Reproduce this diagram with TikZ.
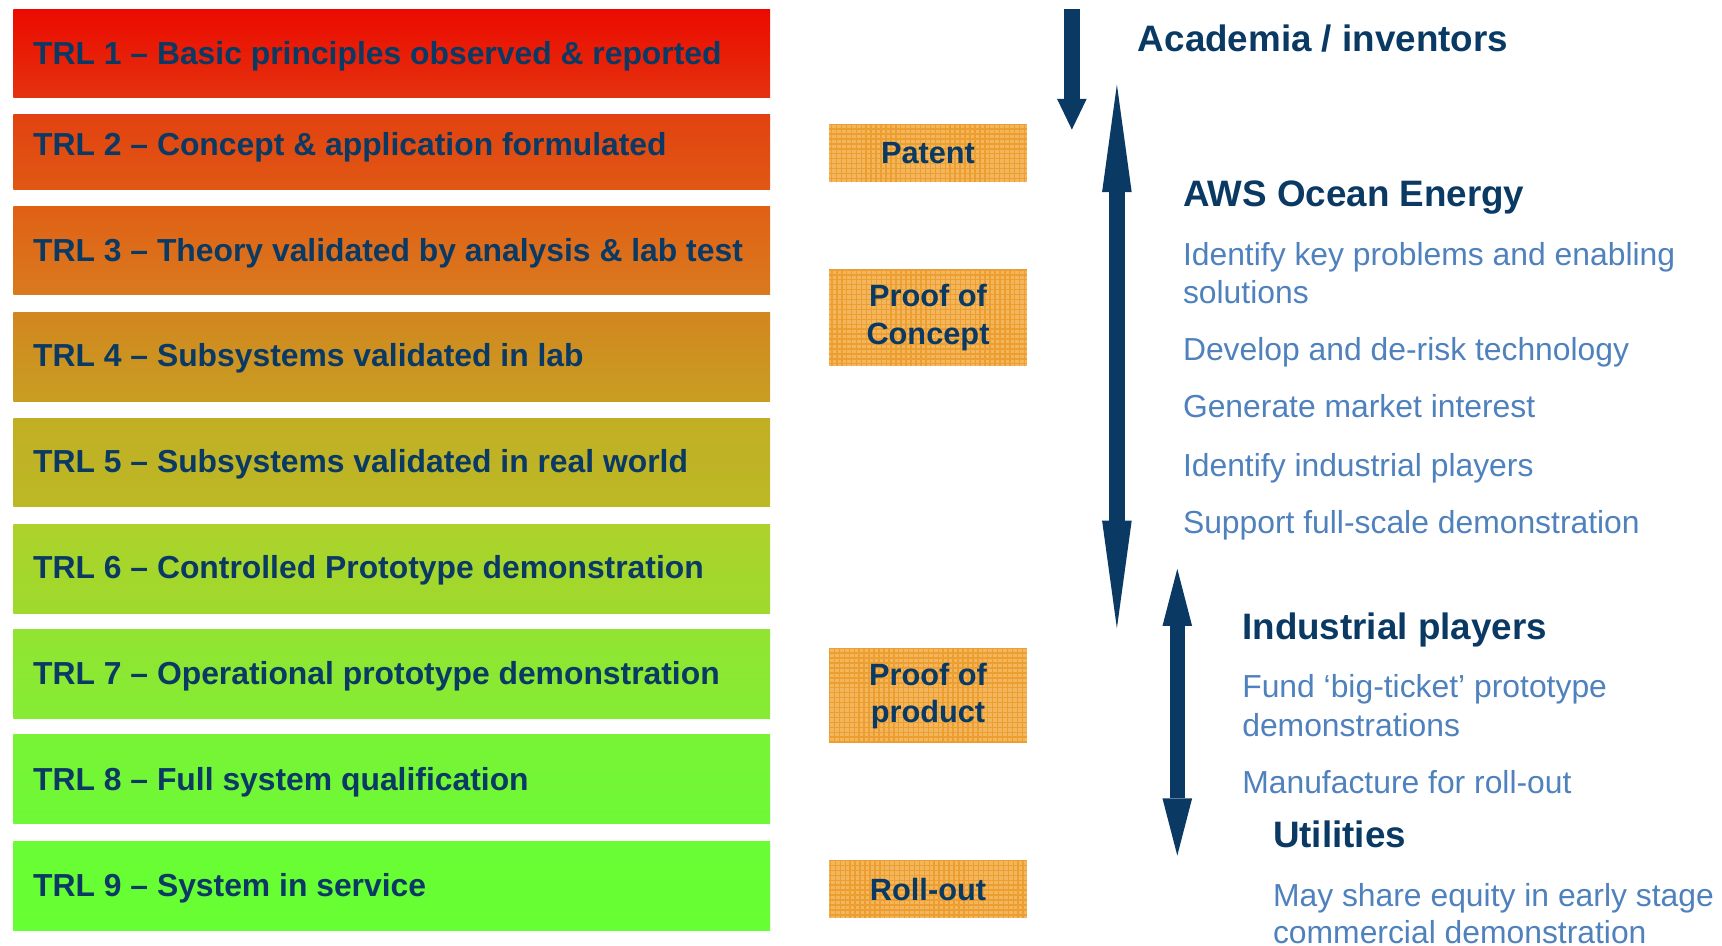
\documentclass[tikz,border=0pt]{standalone}
\usepackage{fontspec}
\setmainfont{Liberation Sans}
\usetikzlibrary{arrows.meta}
\definecolor{navy}{RGB}{10,58,100}
\definecolor{lblue}{RGB}{79,129,189}
\definecolor{obase}{RGB}{244,182,92}
\definecolor{ogrid}{RGB}{236,158,48}
\definecolor{cat}{RGB}{236,10,0}\definecolor{cab}{RGB}{228,50,14}
\definecolor{cbt}{RGB}{226,66,16}\definecolor{cbb}{RGB}{224,88,20}
\definecolor{cct}{RGB}{224,96,21}\definecolor{ccb}{RGB}{217,122,30}
\definecolor{cdt}{RGB}{210,134,31}\definecolor{cdb}{RGB}{200,158,34}
\definecolor{cet}{RGB}{194,174,36}\definecolor{ceb}{RGB}{188,185,38}
\definecolor{cft}{RGB}{173,210,43}\definecolor{cfb}{RGB}{158,218,45}
\definecolor{cgt}{RGB}{146,228,50}\definecolor{cgb}{RGB}{132,236,51}
\definecolor{cht}{RGB}{120,244,53}\definecolor{chb}{RGB}{110,248,53}
\definecolor{cit}{RGB}{106,253,53}\definecolor{cib}{RGB}{102,255,51}
\begin{document}
\begin{tikzpicture}[x=1pt,y=-1pt,
  bar/.style={rectangle, draw=none, anchor=north west, minimum width=689pt, inner sep=0pt},
  trltext/.style={anchor=base west, inner sep=0pt, text=navy, font=\fontsize{29}{34}\selectfont\bfseries},
  obox/.style={rectangle, draw=none, fill=obase, minimum width=180pt, inner sep=0pt,
    text=navy, align=center, font=\fontsize{28}{34}\selectfont\bfseries,
    path picture={\draw[ogrid, line width=1.3pt, step=4.5pt] (path picture bounding box.south west) grid (path picture bounding box.north east);}},
  head/.style={anchor=base west, inner sep=0pt, text=navy, font=\fontsize{33.5}{40}\selectfont\bfseries},
  item/.style={anchor=base west, inner sep=0pt, text=lblue, font=\fontsize{29}{35}\selectfont},
  arr/.style={draw=navy, line width=14pt}
]
\useasboundingbox (0,0) rectangle (1568,861);

% TRL bars
\node[bar, minimum height=81pt, top color=cat, bottom color=cab] (trl1) at (12,8) {};
\node[bar, minimum height=68pt, top color=cbt, bottom color=cbb] (trl2) at (12,104) {};
\node[bar, minimum height=80pt, top color=cct, bottom color=ccb] (trl3) at (12,188) {};
\node[bar, minimum height=81pt, top color=cdt, bottom color=cdb] (trl4) at (12,284) {};
\node[bar, minimum height=80pt, top color=cet, bottom color=ceb] (trl5) at (12,381) {};
\node[bar, minimum height=81pt, top color=cft, bottom color=cfb] (trl6) at (12,477) {};
\node[bar, minimum height=81pt, top color=cgt, bottom color=cgb] (trl7) at (12,573) {};
\node[bar, minimum height=81pt, top color=cht, bottom color=chb] (trl8) at (12,669) {};
\node[bar, minimum height=81pt, top color=cit, bottom color=cib] (trl9) at (12,766) {};

\node[trltext] (t1) at (30,59) {TRL 1 – Basic principles observed \& reported};
\node[trltext] (t2) at (30,142) {TRL 2 – Concept \& application formulated};
\node[trltext] (t3) at (30,238) {TRL 3 – Theory validated by analysis \& lab test};
\node[trltext] (t4) at (30,334) {TRL 4 – Subsystems validated in lab};
\node[trltext] (t5) at (30,430) {TRL 5 – Subsystems validated in real world};
\node[trltext] (t6) at (30,527) {TRL 6 – Controlled Prototype demonstration};
\node[trltext] (t7) at (30,623) {TRL 7 – Operational prototype demonstration};
\node[trltext] (t8) at (30,720) {TRL 8 – Full system qualification};
\node[trltext] (t9) at (30,816) {TRL 9 – System in service};

% orange stage boxes
\node[obox, minimum height=53pt] (patent) at (845,139.5) {Patent};
\node[obox, minimum height=88pt] (poc) at (845,289) {Proof of\\Concept};
\node[obox, minimum height=87pt] (pop) at (845,633.5) {Proof of\\product};
\node[obox, minimum height=53pt] (roll) at (845,809.5) {Roll-out};

% arrows
\coordinate (a1s) at (976,8.5);
\coordinate (a1e) at (976,118);
\coordinate (a2s) at (1017,77);
\coordinate (a2e) at (1017,572);
\coordinate (a3s) at (1072,518);
\coordinate (a3e) at (1072,779);
\draw[arr, -{Triangle[length=28pt,width=27pt,line width=0pt]}, fill=navy] (a1s) -- (a1e);
\draw[arr, {Triangle[length=98pt,width=27pt,line width=0pt]}-{Triangle[length=98pt,width=27pt,line width=0pt]}, fill=navy] (a2s) -- (a2e);
\draw[arr, {Triangle[length=52pt,width=27pt,line width=0pt]}-{Triangle[length=52pt,width=27pt,line width=0pt]}, fill=navy] (a3s) -- (a3e);

% right-hand texts
\node[head] (acad) at (1036,47) {Academia / inventors};
\node[head] (aws) at (1077,188) {AWS Ocean Energy};
\node[item] (aws1) at (1077,241.5) {Identify key problems and enabling};
\node[item] (aws1b) at (1077,276.5) {solutions};
\node[item] (aws2) at (1077,328.5) {Develop and de-risk technology};
\node[item] (aws3) at (1077,380.5) {Generate market interest};
\node[item] (aws4) at (1077,433.5) {Identify industrial players};
\node[item] (aws5) at (1077,485.5) {Support full-scale demonstration};
\node[head] (ind) at (1131,582) {Industrial players};
\node[item] (ind1) at (1131,635.5) {Fund ‘big-ticket’ prototype};
\node[item] (ind1b) at (1131,670.5) {demonstrations};
\node[item] (ind2) at (1131,722.5) {Manufacture for roll-out};
\node[head] (util) at (1159,772) {Utilities};
\node[item] (util1) at (1159,825.5) {May share equity in early stage};
\node[item] (util1b) at (1159,859.5) {commercial demonstration};
\end{tikzpicture}
\end{document}
